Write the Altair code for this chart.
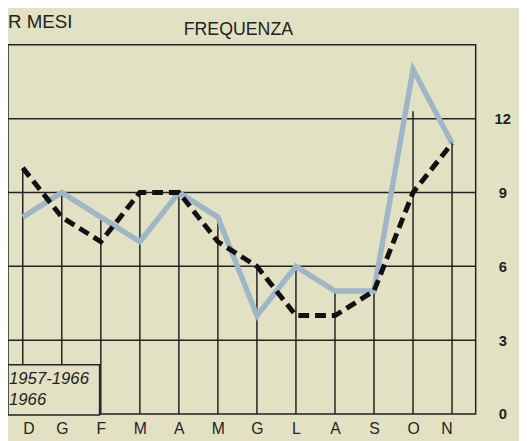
import json
import altair as alt
import pandas as pd

months = ["D", "G", "F", "M", "A", "M", "G", "L", "A", "S", "O", "N"]
avg_1957_1966 = [10, 8, 7, 9, 9, 7, 6, 4, 4, 5, 9, 11]
year_1966 = [8, 9, 8, 7, 9, 8, 4, 6, 5, 5, 14, 11]
y_ticks = [0, 3, 6, 9, 12]
grid_values = [3, 6, 9, 12]
legend_labels = ["1957-1966", "1966"]

BG = "#e3e1c4"
INK = "#222222"
BLUE = "#a0b5c6"
FONT = "Liberation Sans"

W, H = 475, 375

df = pd.DataFrame({
    "i": list(range(len(months))),
    "mese": months,
    "a": avg_1957_1966,
    "b": year_1966,
})

xscale = alt.Scale(domain=[0, 11], range=[15, 451], nice=False, zero=False)
yscale = alt.Scale(domain=[0, 15], nice=False, zero=True)

label_expr = json.dumps(months) + "[datum.value]"

base = alt.Chart(df)

grid = alt.Chart(pd.DataFrame({"g": grid_values})).mark_rule(
    color=INK, strokeWidth=1.5
).encode(
    y=alt.Y("g:Q", scale=yscale,
            axis=alt.Axis(values=y_ticks, orient="right", title=None, ticks=False,
                          domain=False, grid=False, labelFont=FONT, labelFontSize=15,
                          labelFontWeight="bold", labelColor=INK, labelAlign="center",
                          labelPadding=27)),
    x=alt.value(0), x2=alt.value(W),
)

drops = base.transform_calculate(
    top="min(max(datum.a, datum.b), 12.3)"
).mark_rule(color=INK, strokeWidth=1.5).encode(
    x=alt.X("i:Q", scale=xscale,
            axis=alt.Axis(values=list(range(12)), labelExpr=label_expr, title=None,
                          ticks=False, domain=False, grid=False, labelFont=FONT,
                          labelFontSize=16, labelColor=INK, labelPadding=7)),
    y=alt.Y("top:Q", scale=yscale),
    y2=alt.datum(0),
)

box = alt.Chart(pd.DataFrame({"k": [0]})).mark_rect(
    fill=BG, stroke=INK, strokeWidth=1.5
).encode(
    x=alt.value(0), x2=alt.value(93), y=alt.value(325), y2=alt.value(376)
)

leg1 = alt.Chart(pd.DataFrame({"t": [legend_labels[0]]})).mark_text(
    align="left", baseline="middle", font=FONT, fontSize=17, fontStyle="italic",
    color=INK
).encode(x=alt.value(1), y=alt.value(340), text="t:N")
leg2 = alt.Chart(pd.DataFrame({"t": [legend_labels[1]]})).mark_text(
    align="left", baseline="middle", font=FONT, fontSize=17, fontStyle="italic",
    color=INK
).encode(x=alt.value(1), y=alt.value(361), text="t:N")

line_b = base.mark_line(color=BLUE, strokeWidth=5.5, strokeJoin="miter").encode(
    x=alt.X("i:Q", scale=xscale), y=alt.Y("b:Q", scale=yscale)
)
line_a = base.mark_line(color="#111111", strokeWidth=5, strokeDash=[11, 6],
                        strokeJoin="miter").encode(
    x=alt.X("i:Q", scale=xscale), y=alt.Y("a:Q", scale=yscale)
)

title = alt.Chart(pd.DataFrame({"t": ["FREQUENZA"]})).mark_text(
    align="center", baseline="alphabetic", font=FONT, fontSize=18, color=INK
).encode(x=alt.value(234), y=alt.value(-10), text="t:N")

head = alt.Chart(pd.DataFrame({"t": ["R MESI"]})).mark_text(
    align="left", baseline="alphabetic", font=FONT, fontSize=19, color=INK
).encode(x=alt.value(0), y=alt.value(-17), text="t:N")

chart = alt.layer(grid, drops, box, line_b, line_a, leg1, leg2, title, head).properties(
    width=W, height=H,
    autosize=alt.AutoSizeParams(type="none"),
    padding={"left": 0, "top": 34, "right": 44, "bottom": 24},
).configure(background=BG).configure_view(
    fill=BG, stroke=INK, strokeWidth=1.5
)

chart.save("out.html", embed_options={"renderer": "svg", "actions": False})
